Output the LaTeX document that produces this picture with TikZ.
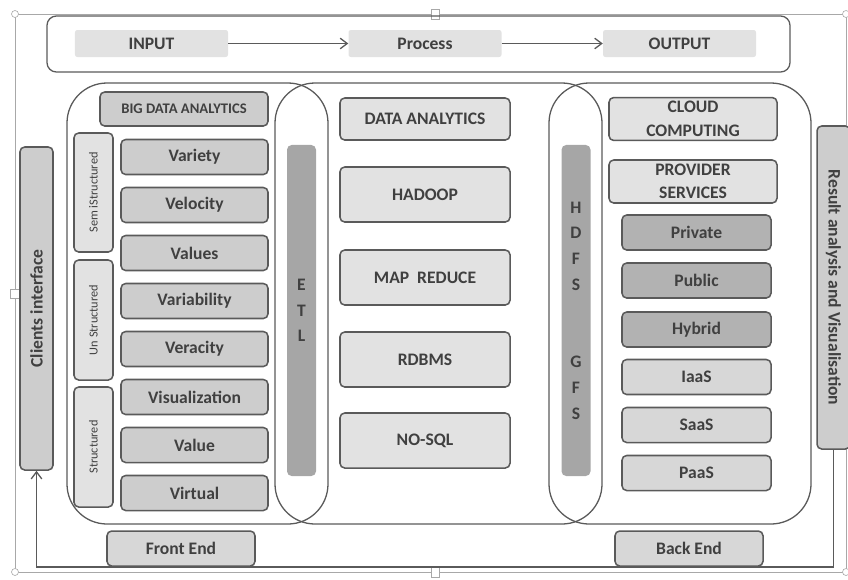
\documentclass[tikz,border=0pt]{standalone}
\usepackage{fontspec}
\usetikzlibrary{arrows.meta}
\setmainfont{Carlito}
\definecolor{txtgray}{HTML}{404040}
\definecolor{edgegray}{HTML}{5A5A5A}
\definecolor{framegray}{HTML}{A8A8A8}
\definecolor{paleFill}{HTML}{E2E2E2}
\definecolor{midFill}{HTML}{CDCDCD}
\definecolor{darkFill}{HTML}{B2B2B2}
\definecolor{barFill}{HTML}{A6A6A6}
\begin{document}
\begin{tikzpicture}[x=0.03cm,y=-0.03cm,>={Straight Barb[length=6pt,width=9pt]},
    every node/.style={text=txtgray,font=\bfseries\fontsize{15}{20}\selectfont},
    flowbox/.style={fill=paleFill,rounded corners=2pt,minimum width=4.59cm,minimum height=0.81cm},
    zone/.style={draw=edgegray,line width=1.1pt,rounded corners=1.2cm},
    card/.style={draw=edgegray,line width=1.3pt,rounded corners=4pt},
    itembox/.style={card,fill=midFill,minimum width=4.41cm,minimum height=1.05cm},
    techbox/.style={card,fill=paleFill,minimum width=5.1cm,minimum height=1.65cm},
    cloudbox/.style={card,minimum width=4.47cm,minimum height=1.05cm},
    typebox/.style={card,fill=paleFill,rotate=90,minimum height=1.17cm,
      font=\fontsize{10.5}{12}\selectfont},
    fsbar/.style={fill=barFill,rounded corners=4pt,minimum width=0.87cm,minimum height=9.93cm,align=center},
    sidebox/.style={card,fill=midFill,minimum width=9.69cm,minimum height=0.99cm},
    link/.style={draw=edgegray,line width=1.1pt},
    handle/.style={draw=framegray,fill=white,line width=0.5pt}]
  \useasboundingbox (0,0) rectangle (848,579);

  % selection frame
  \draw[framegray,line width=0.7pt] (15,14) rectangle (846,572);
  \draw[handle] (15,14) circle (3.5);
  \draw[handle] (846,14) circle (3.5);
  \draw[handle] (15,572) circle (3.5);
  \draw[handle] (846,572) circle (3.5);
  \draw[handle] (431,9) rectangle (439,19);
  \draw[handle] (431,567) rectangle (439,577);
  \draw[handle] (10,289) rectangle (20,298);

  % input / process / output
  \draw[card,line width=1.1pt,rounded corners=8pt] (47,16) rectangle (790,72);
  \path (151.5,43.5) node[flowbox] (IN) {INPUT};
  \path (425,43.5) node[flowbox] (PR) {Process};
  \path (679.5,43.5) node[flowbox] (OUT) {OUTPUT};
  \draw[link,->] (IN) -- (PR);
  \draw[link,->] (PR) -- (OUT);

  % three overlapping zones
  \draw[zone] (67,83) rectangle (328,524);
  \draw[zone] (275,83) rectangle (602,524);
  \draw[zone] (549,83) rectangle (811,524);

  % big data analytics
  \path (184,109) node[card,fill=midFill,minimum width=5.04cm,minimum height=1.02cm,
    font=\bfseries\fontsize{12.5}{15}\selectfont] (BDA) {BIG DATA ANALYTICS};
  \path (93.5,192.5) node[typebox,minimum width=3.57cm] (SEMI) {Sem iStructured};
  \path (93.5,320) node[typebox,minimum width=3.6cm] (UNS) {Un Structured};
  \path (93.5,447) node[typebox,minimum width=3.6cm] (STR) {Structured};
  \path (194.5,157) node[itembox] (V1) {Variety};
  \path (194.5,205) node[itembox] (V2) {Velocity};
  \path (194.5,253) node[itembox] (V3) {Values};
  \path (194.5,301) node[itembox] (V4) {Variability};
  \path (194.5,349) node[itembox] (V5) {Veracity};
  \path (194.5,397) node[itembox] (V6) {Visualization};
  \path (194.5,445) node[itembox] (V7) {Value};
  \path (194.5,493) node[itembox] (V8) {Virtual};

  % ETL and HDFS bars
  \path (301.5,310.5) node[fsbar,font=\bfseries\fontsize{15}{22}\selectfont] (ETL) {E\\T\\L};
  \path (576,310.5) node[fsbar,font=\bfseries\fontsize{15}{22}\selectfont] (HDFS) {H\\D\\F\\S\\[44pt]G\\F\\S};

  % data analytics
  \path (425,119) node[techbox,minimum height=1.26cm] (DA) {DATA ANALYTICS};
  \path (425,194.5) node[techbox] (HAD) {HADOOP};
  \path (425,277.5) node[techbox] (MR) {MAP\ \ REDUCE};
  \path (425,359.5) node[techbox] (RDB) {RDBMS};
  \path (425,440.5) node[techbox] (NSQ) {NO-SQL};

  % cloud computing
  \path (693,119) node[card,fill=paleFill,minimum width=5.04cm,minimum height=1.26cm,
    align=center] (CC) {CLOUD\\COMPUTING};
  \path (693,181.5) node[card,fill=paleFill,minimum width=5.04cm,minimum height=1.29cm,
    align=center] (PS) {PROVIDER\\SERVICES};
  \path (696.5,232.5) node[cloudbox,fill=darkFill] (PRI) {Private};
  \path (696.5,280.5) node[cloudbox,fill=darkFill] (PUB) {Public};
  \path (696.5,329.5) node[cloudbox,fill=darkFill] (HYB) {Hybrid};
  \path (696.5,377) node[cloudbox,fill=midFill!80!white] (IAAS) {IaaS};
  \path (696.5,425) node[cloudbox,fill=midFill!80!white] (SAAS) {SaaS};
  \path (696.5,473) node[cloudbox,fill=midFill!80!white] (PAAS) {PaaS};

  % front end / back end
  \path (181,548.5) node[card,fill=midFill!80!white,minimum width=4.44cm,minimum height=1.05cm] (FE) {Front End};
  \path (689,548.5) node[card,fill=midFill!80!white,minimum width=4.44cm,minimum height=1.05cm] (BE) {Back End};

  % client side and result side
  \path (36.5,308.5) node[sidebox,rotate=90] (CLI) {Clients interface};
  \path (833.5,287.5) node[sidebox,rotate=-90] (RES) {Result analysis and Visualisation};
  \coordinate (LOW) at (0,567);
  \draw[link,->] (RES.east) -- (RES.east |- LOW) -- (CLI.west |- LOW) -- (CLI.west);
\end{tikzpicture}
\end{document}
